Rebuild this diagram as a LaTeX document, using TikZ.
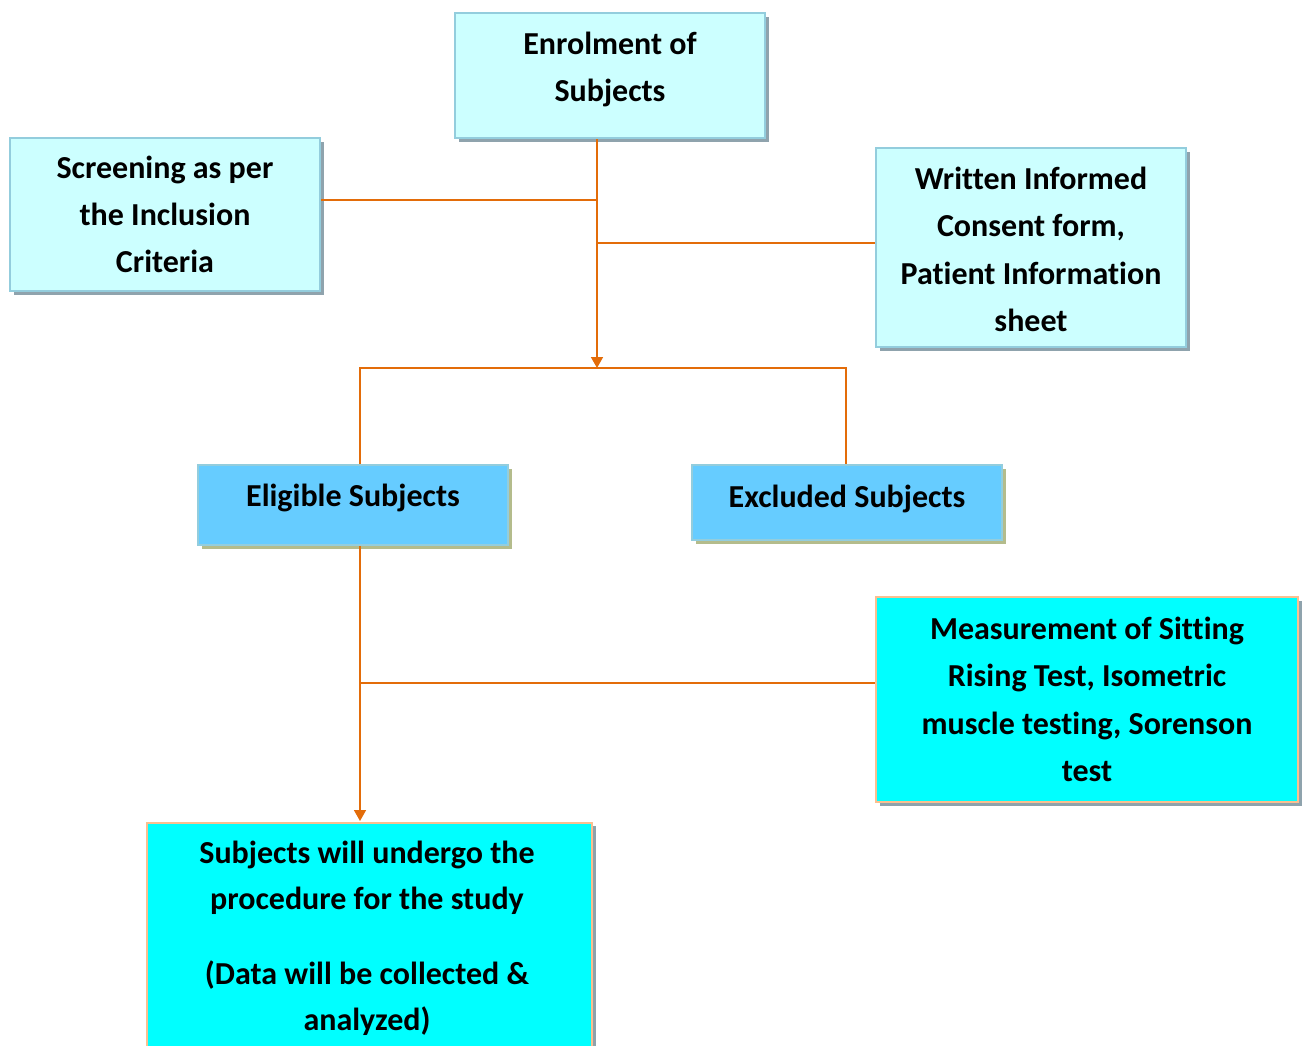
\documentclass[tikz,border=0pt]{standalone}
\usepackage{fontspec}
\setmainfont{Carlito}[Ligatures=NoCommon]
\usetikzlibrary{shadows,arrows.meta}
\definecolor{lcyan}{HTML}{CCFFFF}
\definecolor{mblue}{HTML}{66CCFF}
\definecolor{fcyan}{HTML}{00FFFF}
\definecolor{lineor}{HTML}{E36C09}
\definecolor{bdblue}{HTML}{93CDDD}
\definecolor{bdor}{HTML}{FAC090}
\definecolor{shgray}{HTML}{8FA3AD}
\definecolor{sholive}{HTML}{B4BC8C}
\tikzset{
  txt/.style={align=center, inner sep=0pt, font=\fontsize{32}{47.3}\selectfont\bfseries},
  box/.style={rectangle, draw=bdblue, line width=1.5pt, txt,
    drop shadow={shadow xshift=3.5pt, shadow yshift=-3.5pt, fill=shgray, opacity=1}},
  lbox/.style={box, fill=lcyan},
  bbox/.style={box, fill=mblue, draw=bdblue,
    drop shadow={shadow xshift=3.5pt, shadow yshift=-3.5pt, fill=sholive, opacity=1}},
  cbox/.style={box, fill=fcyan, draw=bdor},
  conn/.style={draw=lineor, line width=1.6pt},
  arr/.style={conn, -{Triangle[length=11pt,width=12pt]}}
}
\begin{document}
\begin{tikzpicture}[x=1pt,y=1pt]
\clip (0,0) rectangle (1305,-1045);
\fill[white] (0,0) rectangle (1305,-1045);
\node[lbox, minimum width=310, minimum height=125] (enrol) at (610,-75.5) {};
\node[txt] (enroltxt) at ([yshift=6pt]enrol.center) {Enrolment of\\Subjects};
\node[lbox, minimum width=310, minimum height=153] (scr) at (165,-214.5) {Screening as per\\the Inclusion\\Criteria};
\node[lbox, minimum width=310, minimum height=199] (wri) at (1031,-247.5) {};
\node[txt] (writxt) at ([yshift=-2pt]wri.center) {Written Informed\\Consent form,\\Patient Information\\sheet};
\node[bbox, minimum width=310, minimum height=80] (elig) at (353,-505) {};
\node[txt] (eligtxt) at ([yshift=7pt]elig.center) {Eligible Subjects};
\node[bbox, minimum width=310, minimum height=75] (excl) at (847,-502.5) {};
\node[txt] (excltxt) at ([yshift=4pt]excl.center) {Excluded Subjects};
\node[cbox, minimum width=422, minimum height=205] (meas) at (1087,-699.5) {Measurement of Sitting\\Rising Test, Isometric\\muscle testing, Sorenson\\test};
\node[cbox, minimum width=445, minimum height=240, anchor=north] (subj) at (369.5,-822) {};
\node[txt, font=\fontsize{32}{46}\selectfont\bfseries, anchor=north] (subjtxt) at (367,-841) {Subjects will undergo the\\procedure for the study\\[29pt](Data will be collected \&\\analyzed)};
\coordinate (j1) at (597,-368);
\coordinate (s1) at (597,-200);
\coordinate (w1) at (597,-243);
\coordinate (e1) at (360,-368);
\coordinate (x1) at (846,-368);
\coordinate (m1) at (360,-683);
\coordinate (d1) at (360,-821);
\draw[arr] (enrol.south -| j1) -- (j1);
\draw[conn] (scr.east |- s1) -- (s1);
\draw[conn] (w1) -- (wri.west |- w1);
\draw[conn] (elig.north -| e1) -- (e1) -- (x1) -- (excl.north -| x1);
\draw[arr] (elig.south -| d1) -- (d1);
\draw[conn] (m1) -- (meas.west |- m1);
\end{tikzpicture}
\end{document}
